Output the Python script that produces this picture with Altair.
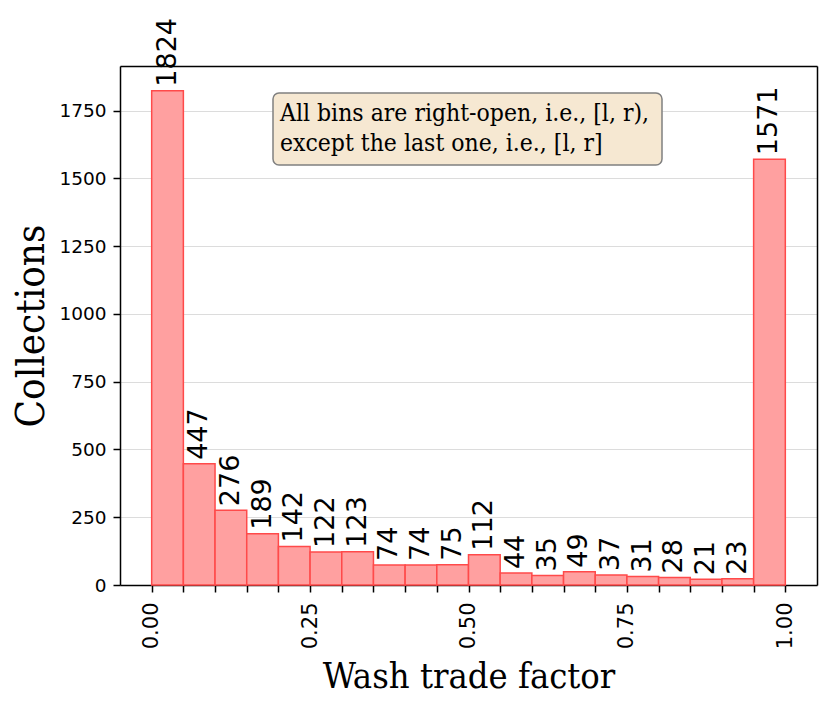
import altair as alt
import pandas as pd

# Histogram of wash trade factor (20 bins of width 0.05 on [0, 1])
bin_width = 0.05
bin_starts = [round(i * bin_width, 2) for i in range(20)]
counts = [1824, 447, 276, 189, 142, 122, 123, 74, 74, 75,
          112, 44, 35, 49, 37, 31, 28, 21, 23, 1571]
x_tick_values = [round(i * bin_width, 2) for i in range(21)]
y_tick_values = [0, 250, 500, 750, 1000, 1250, 1500, 1750]
note_lines = ["All bins are right-open, i.e., [l, r),",
              "except the last one, i.e., [l, r]"]

df = pd.DataFrame({
    "start": bin_starts,
    "end": [round(s + bin_width, 2) for s in bin_starts],
    "mid": [round(s + bin_width / 2, 3) for s in bin_starts],
    "count": counts,
})

SERIF = "DejaVu Serif Condensed, DejaVu Serif"
SANS = "DejaVu Sans"

W, H = 697, 519

x_scale = alt.Scale(domain=[-0.05, 1.05], nice=False, zero=False)
y_scale = alt.Scale(domain=[0, 1915], nice=False)

x_axis = alt.Axis(
    values=x_tick_values,
    labelExpr="round(datum.value * 100) % 25 == 0 ? format(datum.value, '.2f') : ''",
    labelOverlap=False,
    labelFlush=False,
    labelAngle=270,
    labelFontSize=21,
    labelFont=SANS,
    labelPadding=10,
    labelColor="black",
    tickSize=7,
    tickWidth=1.5,
    tickColor="black",
    domainColor="black",
    domainWidth=1.5,
    grid=False,
    title="Wash trade factor",
    titleFont=SERIF,
    titleFontSize=36,
    titleFontWeight="normal",
    titleColor="black",
    titleBaseline="alphabetic",
    titleY=102,
)

y_axis = alt.Axis(
    values=y_tick_values,
    format="d",
    labelOverlap=False,
    labelFontSize=18.5,
    labelFont=SANS,
    labelPadding=7,
    labelColor="black",
    tickSize=7,
    tickWidth=1.5,
    tickColor="black",
    domainColor="black",
    domainWidth=1.5,
    grid=True,
    gridColor="#dcdcdc",
    gridWidth=1.2,
    title="Collections",
    titleFont=SERIF,
    titleFontSize=40,
    titleFontWeight="normal",
    titleColor="black",
    titleBaseline="alphabetic",
    titleX=-77,
)

frame_axis_x = alt.Axis(orient="top", labels=False, ticks=False, grid=False,
                        title=None, domainColor="black", domainWidth=1.5)
frame_axis_y = alt.Axis(orient="right", labels=False, ticks=False, grid=False,
                        title=None, domainColor="black", domainWidth=1.5)

base = alt.Chart(df)

bars = base.mark_rect(
    fill="#ffa0a0",
    stroke="#ff4a4a",
    strokeWidth=1.5,
).encode(
    x=alt.X("start:Q", scale=x_scale, axis=x_axis),
    x2="end:Q",
    y=alt.Y("count:Q", scale=y_scale, axis=y_axis),
    y2=alt.datum(0),
)

labels = base.mark_text(
    angle=270,
    align="left",
    baseline="middle",
    dx=4,
    font=SANS,
    fontSize=27,
    color="black",
).encode(
    x=alt.X("mid:Q", scale=x_scale, axis=x_axis),
    y=alt.Y("count:Q", scale=y_scale, axis=y_axis),
    text="count:Q",
)

one_df = pd.DataFrame({"k": [0]})

note_box = alt.Chart(one_df).mark_rect(
    fill="#f6e8d2",
    stroke="#808080",
    strokeWidth=1.5,
    cornerRadius=6,
).encode(
    x=alt.value(153),
    x2=alt.value(542),
    y=alt.value(27),
    y2=alt.value(99),
)

note_text = alt.Chart(one_df).mark_text(
    text=note_lines,
    align="left",
    baseline="alphabetic",
    font=SERIF,
    fontSize=24.5,
    lineHeight=30,
    color="black",
).encode(
    x=alt.value(160),
    y=alt.value(55),
)

main = alt.layer(bars, labels, note_box, note_text)

frame = base.mark_point(opacity=0).encode(
    x=alt.X("mid:Q", scale=x_scale, axis=frame_axis_x),
    y=alt.Y("count:Q", scale=y_scale, axis=frame_axis_y),
)

chart = alt.layer(main, frame).resolve_axis(
    x="independent", y="independent"
).properties(
    width=W,
    height=H,
    autosize=alt.AutoSizeParams(type="none"),
    padding={"left": 112, "top": 58, "right": 6, "bottom": 115},
).configure_view(
    fill="#f8f8f8",
    stroke="#222222",
    strokeWidth=1.5,
).configure(
    background="white",
)

chart.save("out.html", embed_options={"renderer": "svg", "actions": False})
